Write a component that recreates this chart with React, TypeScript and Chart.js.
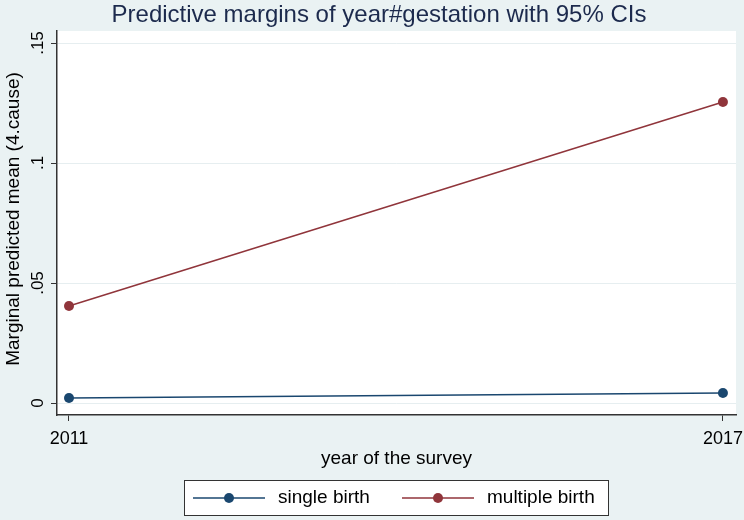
import React, { useEffect, useRef } from "react";
import { Chart, registerables, type ChartConfiguration, type Plugin } from "chart.js";

Chart.register(...registerables);

const years = [2011, 2017];
const singleBirth = [0.0021, 0.0042];
const multipleBirth = [0.0404, 0.1254];
const seriesLabels = ["single birth", "multiple birth"];
const seriesColors = ["#1a476f", "#90353b"];
const yTicks = [0, 0.05, 0.1, 0.15];
const yTickLabels = ["0", ".05", ".1", ".15"];

const titleText = "Predictive margins of year#gestation with 95% CIs";
const xTitle = "year of the survey";
const yTitle = "Marginal predicted mean (4.cause)";

const FONT = "'Liberation Sans', Arial, sans-serif";
const BG = "#eaf2f3";

const decor: Plugin<"line"> = {
  id: "decor",
  beforeDraw(chart) {
    const { ctx, chartArea: a } = chart;
    ctx.save();
    ctx.fillStyle = BG;
    ctx.fillRect(0, 0, chart.width, chart.height);
    ctx.fillStyle = "#ffffff";
    ctx.fillRect(a.left, a.top, a.right - a.left, a.bottom - a.top);
    ctx.restore();
  },
  afterDraw(chart) {
    const { ctx, chartArea: a } = chart;
    const y = chart.scales.y;
    ctx.save();

    // title
    ctx.fillStyle = "#1c2a4d";
    ctx.font = `24px ${FONT}`;
    ctx.textAlign = "center";
    ctx.textBaseline = "middle";
    ctx.fillText(titleText, 379, 15);

    // y tick labels, rotated like Stata
    ctx.fillStyle = "#000";
    ctx.font = `17px ${FONT}`;
    yTicks.forEach((v, i) => {
      ctx.save();
      ctx.translate(38, y.getPixelForValue(v));
      ctx.rotate(-Math.PI / 2);
      ctx.fillText(yTickLabels[i], 0, 0);
      ctx.restore();
    });

    // axis titles
    ctx.font = `19px ${FONT}`;
    ctx.fillText(xTitle, (a.left + a.right) / 2, 459);
    ctx.save();
    ctx.translate(14, 219);
    ctx.rotate(-Math.PI / 2);
    ctx.fillText(yTitle, 0, 0);
    ctx.restore();

    // legend
    ctx.fillStyle = "#fff";
    ctx.fillRect(184.5, 480.5, 424, 35);
    ctx.strokeStyle = "#333";
    ctx.lineWidth = 1;
    ctx.strokeRect(184.5, 480.5, 424, 35);
    const starts = [193, 402];
    chart.data.datasets.forEach((ds, i) => {
      const x0 = starts[i];
      const ly = 498;
      ctx.strokeStyle = ds.borderColor as string;
      ctx.lineWidth = 1.5;
      ctx.beginPath();
      ctx.moveTo(x0, ly);
      ctx.lineTo(x0 + 72, ly);
      ctx.stroke();
      ctx.fillStyle = ds.borderColor as string;
      ctx.beginPath();
      ctx.arc(x0 + 36, ly, 5, 0, Math.PI * 2);
      ctx.fill();
      ctx.fillStyle = "#000";
      ctx.textAlign = "left";
      ctx.fillText(ds.label ?? "", x0 + 85, ly);
    });

    ctx.restore();
  },
};

export default function App() {
  const canvasRef = useRef<HTMLCanvasElement | null>(null);
  const chartRef = useRef<Chart<"line"> | null>(null);

  useEffect(() => {
    document.body.style.margin = "0";
    if (!canvasRef.current) return;

    const config: ChartConfiguration<"line"> = {
      type: "line",
      data: {
        datasets: [
          {
            label: seriesLabels[0],
            data: years.map((yr, i) => ({ x: yr, y: singleBirth[i] })),
            borderColor: seriesColors[0],
            backgroundColor: seriesColors[0],
            borderWidth: 1.5,
            pointRadius: 5,
            pointBorderWidth: 0,
          },
          {
            label: seriesLabels[1],
            data: years.map((yr, i) => ({ x: yr, y: multipleBirth[i] })),
            borderColor: seriesColors[1],
            backgroundColor: seriesColors[1],
            borderWidth: 1.5,
            pointRadius: 5,
            pointBorderWidth: 0,
          },
        ],
      },
      options: {
        responsive: false,
        animation: false,
        layout: { padding: { left: 0, right: 8, top: 31, bottom: 75 } },
        plugins: {
          legend: { display: false },
          tooltip: { enabled: false },
          title: { display: false },
        },
        scales: {
          x: {
            type: "linear",
            min: 2010.89,
            max: 2017.12,
            afterBuildTicks: (scale) => {
              scale.ticks = years.map((v) => ({ value: v }));
            },
            afterFit: (scale) => {
              scale.height = 30;
              scale.paddingLeft = 0;
              scale.paddingRight = 0;
            },
            grid: {
              drawOnChartArea: false,
              tickLength: 6,
              tickColor: "#333",
            },
            border: { color: "#333", width: 1.5 },
            ticks: {
              color: "#000",
              padding: 7,
              maxRotation: 0,
              font: { family: FONT, size: 18 },
              callback: (v) => String(v),
            },
          },
          y: {
            min: -0.005,
            max: 0.155,
            afterBuildTicks: (scale) => {
              scale.ticks = yTicks.map((v) => ({ value: v }));
            },
            afterFit: (scale) => {
              scale.width = 57;
            },
            grid: {
              color: "#e6eef0",
              lineWidth: 1,
              tickLength: 6,
              tickColor: "#333",
            },
            border: { color: "#333", width: 1.5 },
            ticks: { display: false },
          },
        },
      },
      plugins: [decor],
    };

    chartRef.current = new Chart(canvasRef.current, config);

    return () => {
      chartRef.current?.destroy();
      chartRef.current = null;
    };
  }, []);

  return (
    <div style={{ width: 744, height: 520 }}>
      <canvas ref={canvasRef} width={744} height={520} aria-label={titleText} />
    </div>
  );
}
